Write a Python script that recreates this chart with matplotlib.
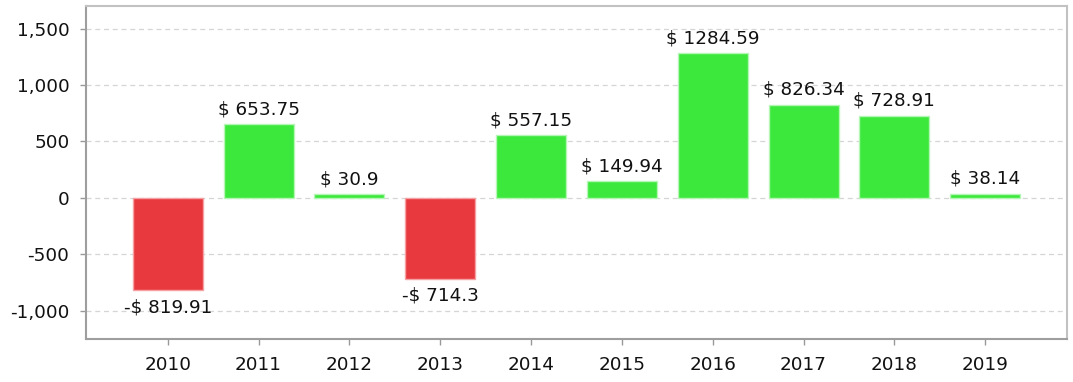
import matplotlib
matplotlib.use('Agg')
import matplotlib.pyplot as plt
from matplotlib.ticker import FuncFormatter

plt.rcParams['font.family'] = ['DejaVu Sans']

# data
years = ['2010', '2011', '2012', '2013', '2014', '2015', '2016', '2017', '2018', '2019']
values = [-819.91, 653.75, 30.9, -714.3, 557.15, 149.94, 1284.59, 826.34, 728.91, 38.14]
labels = ['-$ 819.91', '$ 653.75', '$ 30.9', '-$ 714.3', '$ 557.15', '$ 149.94',
          '$ 1284.59', '$ 826.34', '$ 728.91', '$ 38.14']

colors = ['#e8393f' if v < 0 else '#3de83d' for v in values]
edges = ['#f5a0a3' if v < 0 else '#b5f5b5' for v in values]

fig = plt.figure(figsize=(10.73, 3.82), dpi=100)
ax = fig.add_axes([86 / 1073, 1 - 339 / 382, (1067 - 86) / 1073, (339 - 6) / 382])

x = list(range(len(years)))
ax.bar(x, values, width=0.77, color=colors, edgecolor=edges, linewidth=1, zorder=2)

for xi, v, lab in zip(x, values, labels):
    if v < 0:
        ax.text(xi, v - 75, lab, ha='center', va='top', fontsize=13.2, color='#111111')
    else:
        ax.text(xi, v + 50, lab, ha='center', va='bottom', fontsize=13.2, color='#111111')

ax.set_xlim(-0.9, 9.9)
ax.set_ylim(-1250, 1700)
ax.set_yticks([-1000, -500, 0, 500, 1000, 1500])
ax.yaxis.set_major_formatter(FuncFormatter(lambda v, p: f'{int(v):,}'))
ax.set_xticks(x)
ax.set_xticklabels(years)

ax.grid(axis='y', color='#d5d5d5', linestyle=(0, (4, 3)), linewidth=0.9, zorder=0)
ax.tick_params(axis='both', labelsize=13.2, colors='#999999', labelcolor='#111111', length=4, width=1)
ax.tick_params(axis='x', pad=8)
ax.tick_params(axis='y', pad=8)

for side in ['left', 'bottom']:
    ax.spines[side].set_color('#9e9e9e')
    ax.spines[side].set_linewidth(1.5)
for side in ['top', 'right']:
    ax.spines[side].set_color('#c2c2c2')
    ax.spines[side].set_linewidth(1.5)

fig.savefig('out.png', dpi=100)
